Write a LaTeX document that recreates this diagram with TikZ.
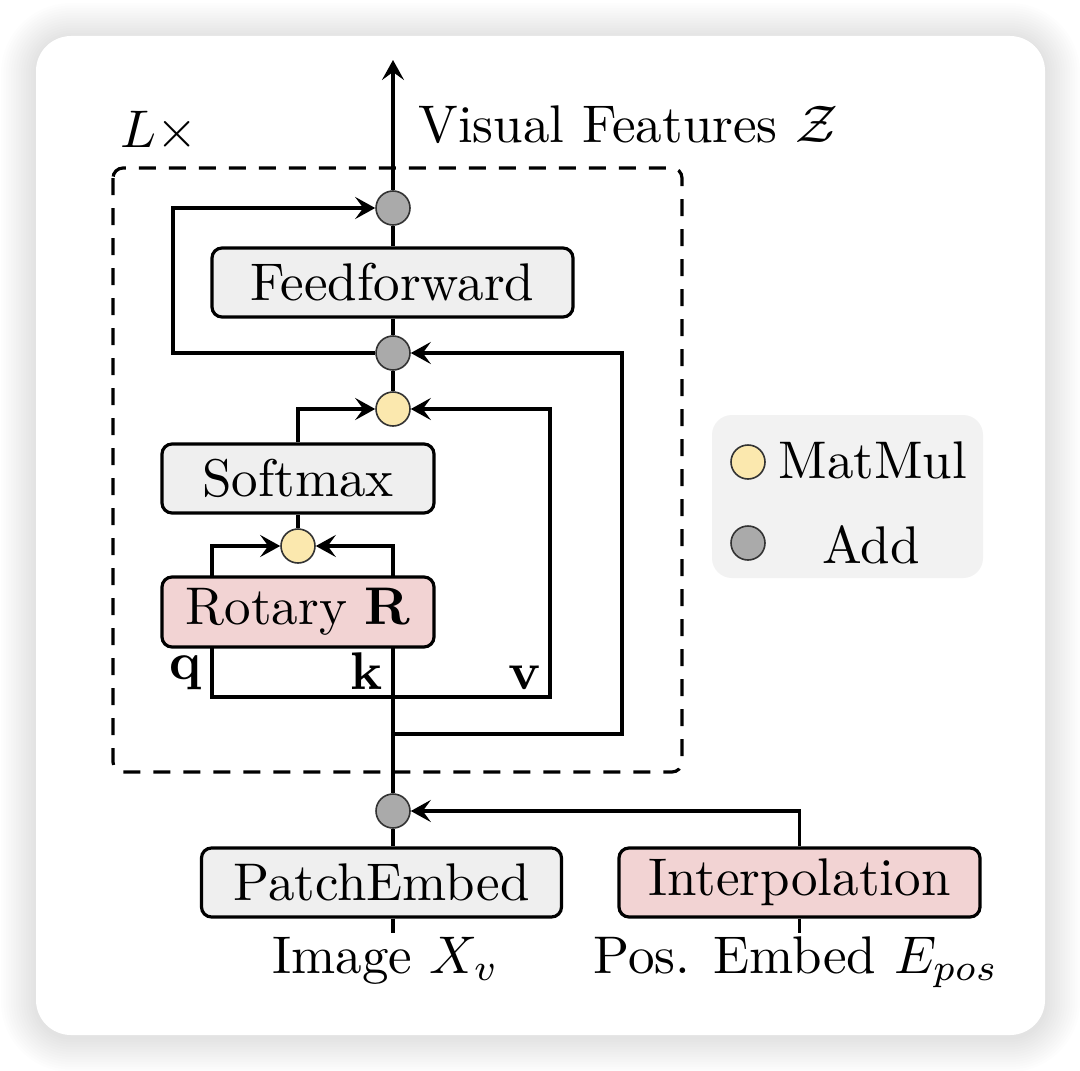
\documentclass[tikz,border=0pt]{standalone}
\usepackage{graphicx}
\usepackage{amsmath,amssymb}
\usetikzlibrary{arrows.meta}
\definecolor{boxgray}{HTML}{EFEFEF}
\definecolor{boxpink}{HTML}{F2D3D3}
\definecolor{addgray}{HTML}{AAAAAA}
\definecolor{mulyellow}{HTML}{FBE8AE}
\definecolor{circedge}{HTML}{333333}
\definecolor{leggray}{HTML}{F2F2F2}
\newcommand{\sz}[1]{\scalebox{2.65}{#1}}
\begin{document}
\begin{tikzpicture}[x=0.5pt,y=-0.5pt,
  conn/.style={line width=1.6pt, draw=black},
  arr/.style={conn, -{Stealth[length=10pt,width=11pt,inset=4pt]}},
  blk/.style={draw=black, line width=1.6pt, rounded corners=5pt, inner sep=0pt, minimum height=34.5pt},
  addc/.style={circle, draw=circedge, line width=0.8pt, fill=addgray, minimum size=17pt, inner sep=0pt},
  mulc/.style={addc, fill=mulyellow},
  lbl/.style={inner sep=0pt},
  dashbox/.style={draw=black, line width=1.6pt, dash pattern=on 8.5pt off 6.5pt, rounded corners=5pt}
]
\useasboundingbox (0,0) rectangle (1080,1070);
\fill[white] (0,0) rectangle (1080,1070);
% card shadow
\foreach \i [evaluate=\i as \rc using 17.5+1.25*\i] in {1,...,14}{
  \fill[black, opacity=0.0065, rounded corners=\rc pt] ({36-2.5*\i},{38-2.5*\i}) rectangle ({1045+2.5*\i},{1037+2.5*\i});
}
\fill[white, rounded corners=17.5pt] (36,36) rectangle (1045,1035);

% dashed block
\draw[dashbox] (113,168) rectangle (682,772);
\node[lbl, anchor=base west] (lx) at (120,148) {\sz{$L\times$}};

% nodes
\node[addc] (add1) at (393,208) {};
\node[blk, fill=boxgray, minimum width=180.5pt] (ff) at (392.5,282.5) {\sz{Feedforward}};
\node[addc] (add2) at (393,353) {};
\node[mulc] (mm1) at (393,409) {};
\node[blk, fill=boxgray, minimum width=136pt] (soft) at (298,478.5) {\sz{Softmax}};
\node[mulc] (mm2) at (298,546) {};
\node[blk, fill=boxpink, minimum width=136pt, minimum height=35pt] (rot) at (298,612) {\sz{Rotary $\mathbf{R}$}};
\node[addc] (add3) at (393,811) {};
\node[blk, fill=boxgray, minimum width=180pt] (patch) at (381.5,882.5) {\sz{PatchEmbed}};
\node[blk, fill=boxpink, minimum width=180.5pt] (interp) at (799.5,882.5) {\sz{Interpolation}};

% coordinates
\coordinate (topc) at (393,60);
\coordinate (lt2) at (173,208);
\coordinate (rb) at (393,734);
\coordinate (rt) at (622,353);
\coordinate (qbot) at (212,647);
\coordinate (vb) at (550,697);
\coordinate (vt) at (550,409);
\coordinate (qtop) at (212,577);
\coordinate (ktop) at (393,577);
\coordinate (kbot) at (393,647);
\coordinate (inimg) at (393,933);
\coordinate (inpos) at (799.5,933);

% connectors
\draw[arr] (add1) -- (topc);
\draw[conn] (add1 |- ff.north) -- (add1);
\draw[conn] (add2) -- (add2 |- ff.south);
\draw[conn] (mm1) -- (add2);
\draw[arr] (add2) -| (lt2) -- (add1);
\draw[arr] (rb) -| (rt) -- (add2);
\draw[arr] (qbot) |- (vb) -- (vt) -- (mm1);
\draw[arr] (soft.north) |- (mm1);
\draw[conn] (mm2) -- (soft);
\draw[arr] (qtop) |- (mm2);
\draw[arr] (ktop) |- (mm2);
\draw[conn] (add3) -- (kbot);
\draw[conn] (add3 |- patch.north) -- (add3);
\draw[arr] (interp.north) |- (add3);
\draw[conn] (add3 |- patch.south) -- (inimg);
\draw[conn] (interp.south) -- (inpos);

% labels
\node[lbl, anchor=base west] (vf) at (418,142) {\sz{Visual Features $\mathcal{Z}$}};
\node[lbl, anchor=south east] (ql) at (202,690) {\sz{$\mathbf{q}$}};
\node[lbl, anchor=south east] (kl) at (383,690) {\sz{$\mathbf{k}$}};
\node[lbl, anchor=south east] (vl) at (542,690) {\sz{$\mathbf{v}$}};
\node[lbl, anchor=base west] (imgl) at (272,973) {\sz{Image $X_v$}};
\node[lbl, anchor=base west] (posl) at (593,973) {\sz{Pos. Embed $E_{pos}$}};

% legend
\fill[leggray, rounded corners=10pt] (712,415) rectangle (983,578);
\node[mulc] (legm) at (748,462) {};
\node[addc] (lega) at (748,543) {};
\node[lbl, anchor=base west] (legmt) at (778,478) {\sz{MatMul}};
\node[lbl, anchor=base west] (legat) at (822,563) {\sz{Add}};
\end{tikzpicture}
\end{document}
